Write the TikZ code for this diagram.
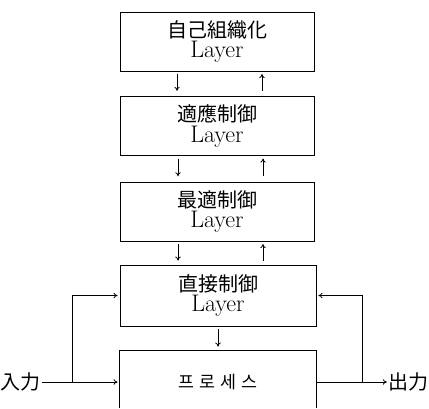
\documentclass[tikz,border=0pt]{standalone}
\usepackage{fontspec}
\newfontfamily\jp{Noto Sans CJK JP}
\newfontfamily\kr[LetterSpace=30]{Noto Sans CJK KR}
\usetikzlibrary{arrows.meta}
\begin{document}
\begin{tikzpicture}[x=0.75pt,y=-0.75pt,
  line width=0.6pt,
  arr/.style={-{To[length=3pt,width=4pt]}},
  box/.style={draw, rectangle, minimum width=145.5pt, minimum height=44.25pt, inner sep=0pt, align=center},
  lay/.style={font=\fontsize{18}{15.5}\selectfont}]
\useasboundingbox (0,0) rectangle (429,408);
\node[box,lay] (b1) at (217,41.5) {{\jp\fontsize{15}{15}\selectfont 自己組織化}\\Layer};
\node[box,lay] (b2) at (217,126) {{\jp\fontsize{15}{15}\selectfont 適應制御}\\Layer};
\node[box,lay] (b3) at (217,211.5) {{\jp\fontsize{15}{15}\selectfont 最適制御}\\Layer};
\node[box,lay,minimum width=147pt,minimum height=45.75pt] (b4) at (218,295.5) {{\jp\fontsize{15}{15}\selectfont 直接制御}\\Layer};
\node[rectangle,minimum width=147pt,minimum height=46.5pt,inner sep=0pt,font=\kr\fontsize{13}{13}\selectfont] (b5) at (218,382) {프로세스};
\draw (b5.north west |- 0,408) -- (b5.north west) -- (b5.north east) -- (b5.north east |- 0,408);
\coordinate (cl1) at (177,0);
\coordinate (cr1) at (262,0);
\coordinate (cl) at (178,0);
\coordinate (cr) at (263,0);
\draw[arr,shorten <=2pt,shorten >=4pt] (b1.south -| cl1) -- (b2.north -| cl1);
\draw[arr,shorten <=4pt,shorten >=2pt] (b2.north -| cr1) -- (b1.south -| cr1);
\draw[arr,shorten <=2pt,shorten >=4pt] (b2.south -| cl) -- (b3.north -| cl);
\draw[arr,shorten <=4pt,shorten >=2pt] (b3.north -| cr) -- (b2.south -| cr);
\draw[arr,shorten <=2pt,shorten >=3pt] (b3.south -| cl) -- (b4.north -| cl);
\draw[arr,shorten <=3pt,shorten >=2pt] (b4.north -| cr) -- (b3.south -| cr);
\draw[arr,shorten <=2pt,shorten >=3pt] (b4.south) -- (b5.north);
\node[anchor=west,inner sep=0pt,font=\jp\fontsize{15}{15}\selectfont] (in) at (0,382) {入力};
\node[anchor=east,inner sep=0pt,font=\jp\fontsize{15}{15}\selectfont] (out) at (429,382) {出力};
\coordinate (jin) at (72,382);
\coordinate (jout) at (362,382);
\draw[shorten <=1pt] (in.east) -- (jin);
\draw[arr,shorten >=1.5pt] (jin) -- (b5.west);
\draw[arr,shorten >=1.5pt] (jin) |- (b4.west);
\draw (b5.east) -- (jout);
\draw[arr,shorten >=1pt] (jout) -- (out.west);
\draw[arr,shorten >=1.5pt] (jout) |- (b4.east);
\end{tikzpicture}
\end{document}
